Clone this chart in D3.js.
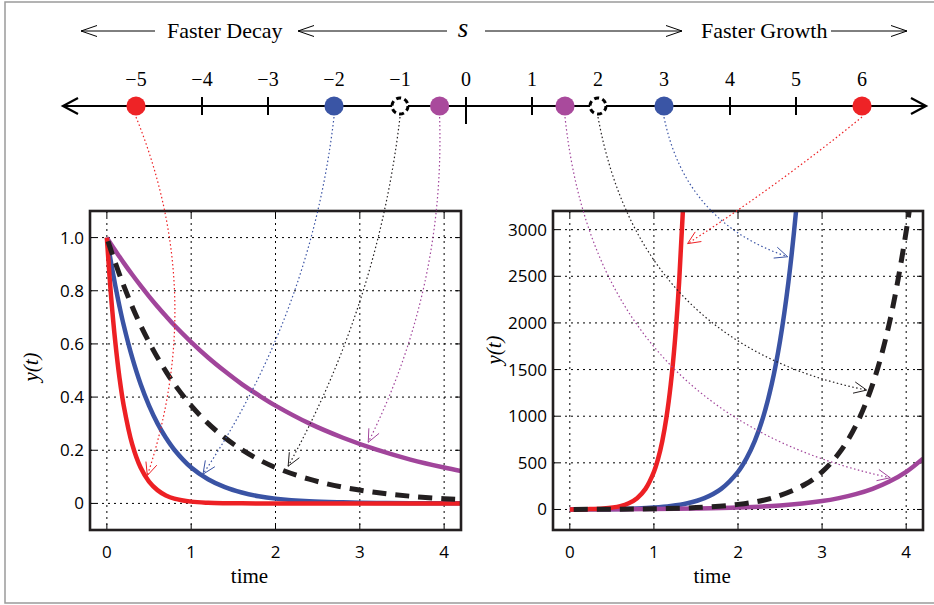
<!DOCTYPE html>
<html>
<head>
<meta charset="utf-8">
<script src="https://cdn.jsdelivr.net/npm/d3@7"></script>
<style>
body { margin: 0; background: #fff; }
</style>
</head>
<body>
<svg class="d3svg" width="934" height="605"></svg>
<script>
var red_color = '#ED2024';
var blue_color = '#3A53A4';
var purple_color = '#A1459B';
var black_color = '#231F20';
var dot_purple = '#A94A9C';

// number line
var sTicks = [-5, -4, -3, -2, -1, 0, 1, 2, 3, 4, 5, 6];
var dotValues = [-5, -2, -1, -0.4, 1.5, 2, 3, 6];
var dotSeries = ['red', 'blue', 'black', 'purple', 'purple', 'black', 'blue', 'red'];

// axes
var timeTicks = [0, 1, 2, 3, 4];
var decayTicks = [0, 0.2, 0.4, 0.6, 0.8, 1.0];
var decayLabels = ['0', '0.2', '0.4', '0.6', '0.8', '1.0'];
var growthTicks = [0, 500, 1000, 1500, 2000, 2500, 3000];
var growthLabels = ['0', '500', '1000', '1500', '2000', '2500', '3000'];

// decay curves (left)
var tDecay = [0, 0.05, 0.1, 0.15, 0.2, 0.3, 0.4, 0.5, 0.6, 0.7, 0.8, 1.0, 1.2, 1.4, 1.6, 1.8, 2.0, 2.4, 2.8, 3.2, 3.6, 4.0, 4.2];
var decayRed = [1, 0.779, 0.607, 0.472, 0.368, 0.223, 0.135, 0.082, 0.050, 0.030, 0.018, 0.0067, 0.0025, 0.0009, 0.0003, 0.0001, 0, 0, 0, 0, 0, 0, 0];
var decayBlue = [1, 0.905, 0.819, 0.741, 0.670, 0.549, 0.449, 0.368, 0.301, 0.247, 0.202, 0.135, 0.091, 0.061, 0.041, 0.027, 0.018, 0.008, 0.004, 0.002, 0.001, 0.0003, 0.0002];
var decayBlack = [1, 0.951, 0.905, 0.861, 0.819, 0.741, 0.670, 0.607, 0.549, 0.497, 0.449, 0.368, 0.301, 0.247, 0.202, 0.165, 0.135, 0.091, 0.061, 0.041, 0.027, 0.018, 0.015];
var decayPurple = [1, 0.975, 0.951, 0.928, 0.905, 0.861, 0.819, 0.779, 0.741, 0.705, 0.670, 0.607, 0.549, 0.497, 0.449, 0.407, 0.368, 0.301, 0.247, 0.202, 0.165, 0.135, 0.122];

// growth curves (right)
var tGrowthRed = [0, 0.2, 0.4, 0.6, 0.7, 0.8, 0.9, 1.0, 1.05, 1.1, 1.15, 1.2, 1.25, 1.3, 1.35, 1.4];
var growthRed = [1, 3.3, 11, 36.6, 66.7, 121.5, 221, 403, 545, 735, 992, 1339, 1808, 2441, 3294, 4447];
var tGrowthBlue = [0, 0.4, 0.8, 1.0, 1.2, 1.4, 1.6, 1.8, 2.0, 2.1, 2.2, 2.3, 2.4, 2.5, 2.6, 2.7, 2.8];
var growthBlue = [1, 3.3, 11, 20, 36.6, 66.7, 121.5, 221, 403, 545, 735, 992, 1339, 1808, 2441, 3294, 4447];
var tGrowthBlack = [0, 0.5, 1.0, 1.5, 2.0, 2.4, 2.8, 3.0, 3.2, 3.4, 3.6, 3.8, 4.0, 4.1, 4.2];
var growthBlack = [1, 2.7, 7.4, 20, 54.6, 121.5, 270, 403, 602, 898, 1339, 1998, 2981, 3641, 4447];
var tGrowthPurple = [0, 0.5, 1.0, 1.5, 2.0, 2.5, 3.0, 3.2, 3.4, 3.6, 3.8, 4.0, 4.2];
var growthPurple = [1, 2.1, 4.5, 9.5, 20, 42.5, 90, 121.5, 164, 221, 299, 403, 545];

// dotted arrows from the number line into the panels: [s, time, y, bend, series]
var decayArrows = [[-5, 0.48, 0.105, 33, 'red'], [-2, 1.14, 0.11, 23, 'blue'], [-1, 2.15, 0.14, 18, 'black'], [-0.4, 3.1, 0.23, 21, 'purple']];
var growthArrows = [[6, 1.4, 2850, 3, 'red'], [3, 2.59, 2710, -27, 'blue'], [2, 3.53, 1280, -65, 'black'], [1.5, 3.81, 340, -88, 'purple']];

var colors = {red: red_color, blue: blue_color, purple: purple_color, black: black_color};
var dotColors = {red: '#EE2326', blue: '#3A55A5', purple: dot_purple};

var svg = d3.select(".d3svg");
var serif = "'Liberation Serif', 'Times New Roman', serif";
var sans = "'Open Sans', 'Noto Sans', sans-serif";

svg.append("rect")
    .attr("x", 5).attr("y", 2)
    .attr("width", 960).attr("height", 601)
    .attr("fill", "none")
    .attr("stroke", "#9a9a9a")
    .attr("stroke-width", 1.5);

// ---------- header arrows and text ----------
function chevron(g, x, y, dir, len, half, width) {
    g.append("path")
        .attr("d", "M" + (x - dir * len) + "," + (y - half) + "L" + x + "," + y + "L" + (x - dir * len) + "," + (y + half))
        .attr("fill", "none")
        .attr("stroke", "#000")
        .attr("stroke-width", width);
}
function textArrow(x0, x1, y) {
    var dir = x1 > x0 ? 1 : -1;
    svg.append("line")
        .attr("x1", x0).attr("x2", x1).attr("y1", y).attr("y2", y)
        .attr("stroke", "#000").attr("stroke-width", 1);
    chevron(svg, x1, y, dir, 16, 5.5, 1);
}
textArrow(155, 81, 31);
textArrow(447, 298, 31);
textArrow(485, 682, 31);
textArrow(831, 907, 31);

svg.append("text").attr("x", 167).attr("y", 38)
    .style("font-family", serif).style("font-size", "22px")
    .text("Faster Decay");
svg.append("text").attr("x", 701).attr("y", 38)
    .style("font-family", serif).style("font-size", "22px")
    .text("Faster Growth");
svg.append("text").attr("x", 463).attr("y", 37)
    .attr("text-anchor", "middle")
    .style("font-family", serif).style("font-size", "27px").style("font-style", "italic")
    .text("s");

// ---------- number line ----------
var lineY = 106;
var xs = d3.scaleLinear().domain([-5, 6]).range([136, 862]);

svg.append("line")
    .attr("x1", 63).attr("x2", 926).attr("y1", lineY).attr("y2", lineY)
    .attr("stroke", "#000").attr("stroke-width", 2.2);
chevron(svg, 63, lineY, -1, 15, 8, 2.2);
chevron(svg, 926, lineY, 1, 15, 8, 2.2);

svg.append("g").selectAll("line")
    .data(sTicks)
    .enter().append("line")
    .attr("x1", function(d) { return xs(d); })
    .attr("x2", function(d) { return xs(d); })
    .attr("y1", lineY - 9)
    .attr("y2", function(d) { return d === 0 ? lineY + 18 : lineY + 9; })
    .attr("stroke", "#000").attr("stroke-width", 2);

svg.append("g").selectAll("text")
    .data(sTicks)
    .enter().append("text")
    .attr("x", function(d) { return xs(d); })
    .attr("y", 86)
    .attr("text-anchor", "middle")
    .style("font-family", serif).style("font-size", "20px")
    .text(function(d) { return d < 0 ? "\u2212" + (-d) : d; });

// ---------- panels ----------
function makePanel(left, right, yDomain, yTicks, yLabels, labelY) {
    var top = 211, bottom = 530;
    var p = {};
    p.x = d3.scaleLinear().domain([-0.2, 4.2]).range([left, right]);
    p.y = d3.scaleLinear().domain(yDomain).range([bottom, top]);
    p.g = svg.append("g");
    var id = "clip" + left;
    svg.append("clipPath").attr("id", id)
        .append("rect").attr("x", left).attr("y", top).attr("width", right - left).attr("height", bottom - top);

    var grid = p.g.append("g")
        .attr("stroke", "#000").attr("stroke-width", 1).attr("stroke-dasharray", "2,4");
    grid.selectAll(".gx").data(timeTicks).enter().append("line")
        .attr("x1", function(d) { return p.x(d); }).attr("x2", function(d) { return p.x(d); })
        .attr("y1", top).attr("y2", bottom);
    grid.selectAll(".gy").data(yTicks).enter().append("line")
        .attr("y1", function(d) { return p.y(d); }).attr("y2", function(d) { return p.y(d); })
        .attr("x1", left).attr("x2", right);

    var tk = p.g.append("g").attr("stroke", "#000").attr("stroke-width", 1);
    timeTicks.forEach(function(d) {
        tk.append("line").attr("x1", p.x(d)).attr("x2", p.x(d)).attr("y1", top).attr("y2", top + 6);
        tk.append("line").attr("x1", p.x(d)).attr("x2", p.x(d)).attr("y1", bottom).attr("y2", bottom - 6);
    });
    yTicks.forEach(function(d) {
        tk.append("line").attr("y1", p.y(d)).attr("y2", p.y(d)).attr("x1", left).attr("x2", left + 6);
        tk.append("line").attr("y1", p.y(d)).attr("y2", p.y(d)).attr("x1", right).attr("x2", right - 6);
    });

    p.curves = p.g.append("g").attr("clip-path", "url(#" + id + ")");

    p.g.append("g").selectAll("text").data(timeTicks).enter().append("text")
        .attr("x", function(d) { return p.x(d); })
        .attr("y", 558)
        .attr("text-anchor", "middle")
        .style("font-family", sans).style("font-size", "17px")
        .text(function(d) { return d; });
    p.g.append("g").selectAll("text").data(yTicks).enter().append("text")
        .attr("x", left - 6)
        .attr("y", function(d) { return p.y(d) + 6; })
        .attr("text-anchor", "end")
        .style("font-family", sans).style("font-size", "17px")
        .text(function(d, i) { return yLabels[i]; });

    p.g.append("text")
        .attr("x", left + 0.43 * (right - left))
        .attr("y", 583)
        .attr("text-anchor", "middle")
        .style("font-family", serif).style("font-size", "21px")
        .text("time");
    p.g.append("text")
        .attr("transform", "translate(" + (left - 52) + "," + labelY + ") rotate(-90)")
        .attr("text-anchor", "middle")
        .style("font-family", serif).style("font-size", "21px").style("font-style", "italic")
        .text("y(t)");

    p.frame = function() {
        p.g.append("rect")
            .attr("x", left).attr("y", top).attr("width", right - left).attr("height", bottom - top)
            .attr("fill", "none").attr("stroke", black_color).attr("stroke-width", 2.6);
    };
    return p;
}

function drawCurve(p, ts, ys, color, dashed) {
    var line = d3.line()
        .x(function(d) { return p.x(d[0]); })
        .y(function(d) { return p.y(d[1]); })
        .curve(d3.curveCatmullRom.alpha(0.5));
    p.curves.append("path")
        .attr("d", line(d3.zip(ts, ys)))
        .attr("fill", "none")
        .attr("stroke", colors[color])
        .attr("stroke-width", dashed ? 5 : 4.5)
        .attr("stroke-linejoin", "round")
        .attr("stroke-dasharray", dashed ? "14,9" : null)
        .attr("stroke-dashoffset", dashed ? -4 : null);
}

var leftP = makePanel(90, 461, [-0.1, 1.1], decayTicks, decayLabels, 367);
drawCurve(leftP, tDecay, decayBlue, 'blue');
drawCurve(leftP, tDecay, decayPurple, 'purple');
drawCurve(leftP, tDecay, decayRed, 'red');
drawCurve(leftP, tDecay, decayBlack, 'black', true);
leftP.frame();

var rightP = makePanel(553, 923, [-220, 3200], growthTicks, growthLabels, 350);
drawCurve(rightP, tGrowthBlue, growthBlue, 'blue');
drawCurve(rightP, tGrowthPurple, growthPurple, 'purple');
drawCurve(rightP, tGrowthRed, growthRed, 'red');
drawCurve(rightP, tGrowthBlack, growthBlack, 'black', true);
rightP.frame();

// ---------- dotted arrows ----------
function connector(p, a) {
    var x0 = xs(a[0]), y0 = lineY + 11;
    var x1 = p.x(a[1]), y1 = p.y(a[2]);
    var dx = x1 - x0, dy = y1 - y0, len = Math.sqrt(dx * dx + dy * dy);
    var cx = (x0 + x1) / 2 + 2 * a[3] * dy / len;
    var cy = (y0 + y1) / 2 - 2 * a[3] * dx / len;
    var path = d3.path();
    path.moveTo(x0, y0);
    path.quadraticCurveTo(cx, cy, x1, y1);
    var col = colors[a[4]];
    svg.append("path")
        .attr("d", path.toString())
        .attr("fill", "none")
        .attr("stroke", col)
        .attr("stroke-width", 1.2)
        .attr("stroke-dasharray", "1.5,2.5");
    var ang = Math.atan2(y1 - cy, x1 - cx);
    var head = d3.path();
    [-0.42, 0.42].forEach(function(o) {
        head.moveTo(x1 - 14 * Math.cos(ang + o), y1 - 14 * Math.sin(ang + o));
        head.lineTo(x1, y1);
    });
    svg.append("path")
        .attr("d", head.toString())
        .attr("fill", "none")
        .attr("stroke", col)
        .attr("stroke-width", 1);
}
decayArrows.forEach(function(a) { connector(leftP, a); });
growthArrows.forEach(function(a) { connector(rightP, a); });

// ---------- dots ----------
svg.append("g").selectAll("circle")
    .data(d3.zip(dotValues, dotSeries))
    .enter().append("circle")
    .attr("cx", function(d) { return xs(d[0]); })
    .attr("cy", lineY)
    .attr("r", function(d) { return d[1] === 'black' ? 8 : 9.6; })
    .attr("fill", function(d) { return d[1] === 'black' ? "#fff" : dotColors[d[1]]; })
    .attr("stroke", function(d) { return d[1] === 'black' ? "#000" : "none"; })
    .attr("stroke-width", 3)
    .attr("stroke-dasharray", function(d) { return d[1] === 'black' ? "5,3.4" : null; });
</script>
</body>
</html>
